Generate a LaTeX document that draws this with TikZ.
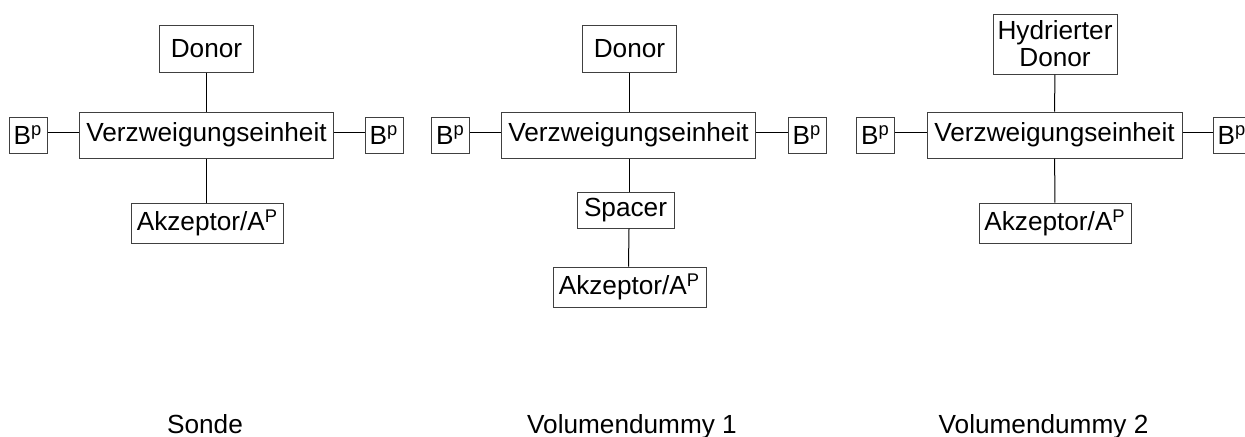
\documentclass[tikz,border=0pt]{standalone}
\usepackage{fontspec}
\setmainfont{Liberation Sans}

\begin{document}
\begin{tikzpicture}[x=0.5pt, y=-0.5pt]
\tikzstyle{every node} = [inner sep=0, font=\fontsize{13.1}{13.6}\selectfont]
\tikzstyle{box} = [draw=black!75, line width=0.5, rectangle, align=center]
\tikzstyle{edge} = [draw, line width=0.5]
\tikzstyle{thickedge} = [draw, line width=0.9]
\tikzstyle{caption} = [anchor=base]
\useasboundingbox (0,0) rectangle (1245,436);
% Sonde
\node[box, minimum width=47, minimum height=23.5] (s_donor) at (206.5, 48.5) {Donor};
\node[box, minimum width=127, minimum height=23] (s_verz) at (206.5, 135) {Verzweigungseinheit};
\node[box, minimum width=19, minimum height=18] (s_bl) at (28, 135) {B\textsuperscript{p}};
\node[box, minimum width=19, minimum height=18] (s_br) at (384, 135) {B\textsuperscript{p}};
\node[box, minimum width=76, minimum height=20] (s_akz) at (207.5, 223) {Akzeptor/A\textsuperscript{P}};
\node[caption] (s_cap) at (205, 433) {Sonde};
\draw[edge] (s_donor) -- (s_verz);
\draw[edge] (s_verz) -- (s_akz.north -| s_verz.south);
\draw[edge] ([yshift=1.5pt]s_bl.east) -- ([yshift=1.5pt]s_verz.west);
\draw[edge] ([yshift=1.5pt]s_verz.east) -- ([yshift=1.5pt]s_br.west);
% Volumendummy 1
\node[box, minimum width=47, minimum height=23.5] (v1_donor) at (629.5, 48.5) {Donor};
\node[box, minimum width=127, minimum height=23] (v1_verz) at (628.5, 135) {Verzweigungseinheit};
\node[box, minimum width=19, minimum height=18] (v1_bl) at (450.5, 135) {B\textsuperscript{p}};
\node[box, minimum width=19, minimum height=18] (v1_br) at (807, 135) {B\textsuperscript{p}};
\node[box, minimum width=48.5, minimum height=18] (v1_spacer) at (625.5, 210) {Spacer};
\node[box, minimum width=76.5, minimum height=20] (v1_akz) at (629.5, 287) {Akzeptor/A\textsuperscript{P}};
\node[caption] (v1_cap) at (632, 433) {Volumendummy 1};
\draw[thickedge] (v1_donor.south) -- (v1_verz.north -| v1_donor.south);
\draw[edge] (v1_verz.south -| v1_spacer.north) ++(3.5,0) -- ([xshift=1.75pt]v1_spacer.north);
\draw[edge] ([xshift=1.75pt]v1_spacer.south) -- (v1_akz.north -| v1_verz.south);
\draw[edge] ([yshift=1.5pt]v1_bl.east) -- ([yshift=1.5pt]v1_verz.west);
\draw[edge] ([yshift=1.5pt]v1_verz.east) -- ([yshift=1.5pt]v1_br.west);
% Volumendummy 2
\node[box, minimum width=62, minimum height=30] (v2_donor) at (1055, 44) {Hydrierter\\Donor};
\node[box, minimum width=127.5, minimum height=23] (v2_verz) at (1054.5, 135) {Verzweigungseinheit};
\node[box, minimum width=19, minimum height=18] (v2_bl) at (875.5, 135) {B\textsuperscript{p}};
\node[box, minimum width=19, minimum height=18] (v2_br) at (1232, 135) {B\textsuperscript{p}};
\node[box, minimum width=76, minimum height=20] (v2_akz) at (1055, 223) {Akzeptor/A\textsuperscript{P}};
\node[caption] (v2_cap) at (1043.5, 433) {Volumendummy 2};
\draw[edge] (v2_donor) -- (v2_verz);
\draw[edge] (v2_verz) -- (v2_akz);
\draw[edge] ([yshift=1.5pt]v2_bl.east) -- ([yshift=1.5pt]v2_verz.west);
\draw[edge] ([yshift=1.5pt]v2_verz.east) -- ([yshift=1.5pt]v2_br.west);
\end{tikzpicture}
\end{document}
